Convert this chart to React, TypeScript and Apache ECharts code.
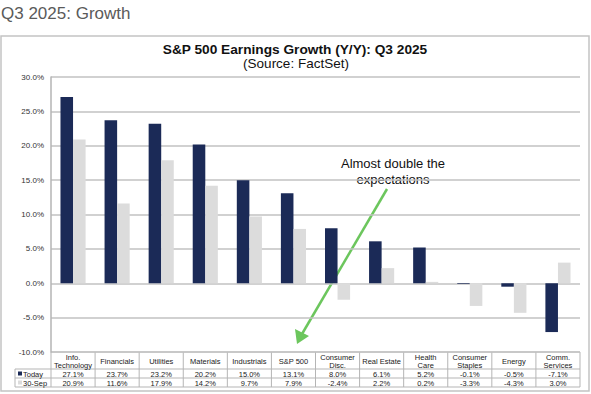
import React, { useEffect, useRef } from "react";
import * as echarts from "echarts";

const categories = [
  "Info.\nTechnology",
  "Financials",
  "Utilities",
  "Materials",
  "Industrials",
  "S&P 500",
  "Consumer\nDisc.",
  "Real Estate",
  "Health\nCare",
  "Consumer\nStaples",
  "Energy",
  "Comm.\nServices",
];
const today = [27.1, 23.7, 23.2, 20.2, 15.0, 13.1, 8.0, 6.1, 5.2, -0.1, -0.5, -7.1];
const sep30 = [20.9, 11.6, 17.9, 14.2, 9.7, 7.9, -2.4, 2.2, 0.2, -3.3, -4.3, 3.0];
const seriesNames = ["Today", "30-Sep"];
const yTicks = { min: -10, max: 30, interval: 5 };

const FONT = "'Liberation Sans', Arial, Helvetica, sans-serif";
const NARROW = "'Liberation Sans Narrow', 'Liberation Sans', Arial, sans-serif";
const DARK = "#1b2a57";
const LIGHT = "#dcdcdc";
const GRID_L = 51;
const GRID_R = 580;
const GRID_T = 77;
const GRID_B = 352;
const W = 591;
const H = 394;

export default function App() {
  const ref = useRef<HTMLDivElement>(null);
  useEffect(() => {
    if (!ref.current) return;
    const chart = echarts.init(ref.current, undefined, { renderer: "svg" });
    const cw = (GRID_R - GRID_L) / categories.length;
    const rowH = [GRID_B, GRID_B + 17, GRID_B + 26, GRID_B + 35];
    const lineStyle = { stroke: "#b5b5b5", lineWidth: 1 };
    const graphics: any[] = [];
    graphics.push({
      type: "rect",
      shape: { x: 1, y: 36, width: 588, height: 355 },
      style: { fill: "none", stroke: "#c4c4c4", lineWidth: 1.5 },
      silent: true,
    });
    graphics.push({
      type: "text",
      x: 1,
      y: 13,
      style: { text: "Q3 2025: Growth", font: `17px ${NARROW}`, fill: "#5a5a5a", textVerticalAlign: "middle" },
    });
    graphics.push({
      type: "text",
      x: 295,
      y: 49,
      style: { text: "S&P 500 Earnings Growth (Y/Y): Q3 2025", font: `bold 13.7px ${FONT}`, fill: "#111", textAlign: "center", textVerticalAlign: "middle" },
    });
    graphics.push({
      type: "text",
      x: 296,
      y: 63,
      style: { text: "(Source: FactSet)", font: `13.5px ${FONT}`, fill: "#111", textAlign: "center", textVerticalAlign: "middle" },
    });
    graphics.push({ type: "line", shape: { x1: GRID_L, y1: rowH[0], x2: GRID_R, y2: rowH[0] }, style: lineStyle });
    for (let r = 1; r < rowH.length; r++) {
      graphics.push({ type: "line", shape: { x1: 15, y1: rowH[r], x2: GRID_R, y2: rowH[r] }, style: lineStyle });
    }
    graphics.push({ type: "line", shape: { x1: 15, y1: rowH[1], x2: 15, y2: rowH[3] }, style: lineStyle });
    for (let i = 0; i <= categories.length; i++) {
      const x = GRID_L + cw * i;
      graphics.push({ type: "line", shape: { x1: x, y1: rowH[0], x2: x, y2: rowH[3] }, style: lineStyle });
    }
    categories.forEach((c, i) => {
      const cx = GRID_L + cw * (i + 0.5);
      graphics.push({
        type: "text",
        x: cx,
        y: (rowH[0] + rowH[1]) / 2 + 0.5,
        style: { text: c, font: `7.5px ${FONT}`, fill: "#222", textAlign: "center", textVerticalAlign: "middle", lineHeight: 8 },
      });
      [today, sep30].forEach((arr, k) => {
        graphics.push({
          type: "text",
          x: cx,
          y: (rowH[k + 1] + rowH[k + 2]) / 2 + 0.5,
          style: { text: arr[i].toFixed(1) + "%", font: `7.5px ${FONT}`, fill: "#222", textAlign: "center", textVerticalAlign: "middle" },
        });
      });
    });
    seriesNames.forEach((n, k) => {
      const cy = (rowH[k + 1] + rowH[k + 2]) / 2;
      graphics.push({
        type: "rect",
        shape: { x: 18, y: cy - 2, width: 4, height: 4 },
        style: { fill: k === 0 ? DARK : LIGHT },
      });
      graphics.push({
        type: "text",
        x: 23,
        y: cy + 0.5,
        style: { text: n, font: `7.5px ${FONT}`, fill: "#222", textVerticalAlign: "middle" },
      });
    });
    graphics.push({
      type: "text",
      x: 393,
      y: 171,
      style: { text: "Almost double the\nexpectations", font: `13px ${FONT}`, fill: "#111", textAlign: "center", textVerticalAlign: "middle", lineHeight: 16 },
    });
    graphics.push({
      type: "line",
      shape: { x1: 387, y1: 189, x2: 302, y2: 334 },
      style: { stroke: "#6cc65d", lineWidth: 2.5 },
    });
    graphics.push({
      type: "polygon",
      shape: { points: [[297, 344], [295, 329], [309, 336]] },
      style: { fill: "#6cc65d" },
    });

    chart.setOption({
      animation: false,
      backgroundColor: "#fff",
      grid: { left: GRID_L, right: W - GRID_R, top: GRID_T, bottom: H - GRID_B },
      xAxis: {
        type: "category",
        data: categories,
        axisLine: { show: false },
        axisTick: { show: false },
        axisLabel: { show: false },
      },
      yAxis: {
        type: "value",
        min: yTicks.min,
        max: yTicks.max,
        interval: yTicks.interval,
        axisLine: { show: true, lineStyle: { color: "#b5b5b5", width: 1.5 } },
        axisTick: { show: false },
        splitLine: { lineStyle: { color: "#c2c2c2", width: 1.5 } },
        axisLabel: {
          formatter: (v: number) => v.toFixed(1) + "%",
          fontSize: 8,
          fontFamily: FONT,
          color: "#333",
          margin: 7,
        },
      },
      series: [
        { name: seriesNames[0], type: "bar", data: today, itemStyle: { color: DARK }, barGap: "0%", barCategoryGap: "43%" },
        { name: seriesNames[1], type: "bar", data: sep30, itemStyle: { color: LIGHT }, barGap: "0%", barCategoryGap: "43%" },
      ],
      graphic: graphics,
    });
    return () => chart.dispose();
  }, []);
  return (
    <div
      ref={ref}
      style={{ position: "fixed", left: 0, top: 0, width: W, height: H }}
    />
  );
}
